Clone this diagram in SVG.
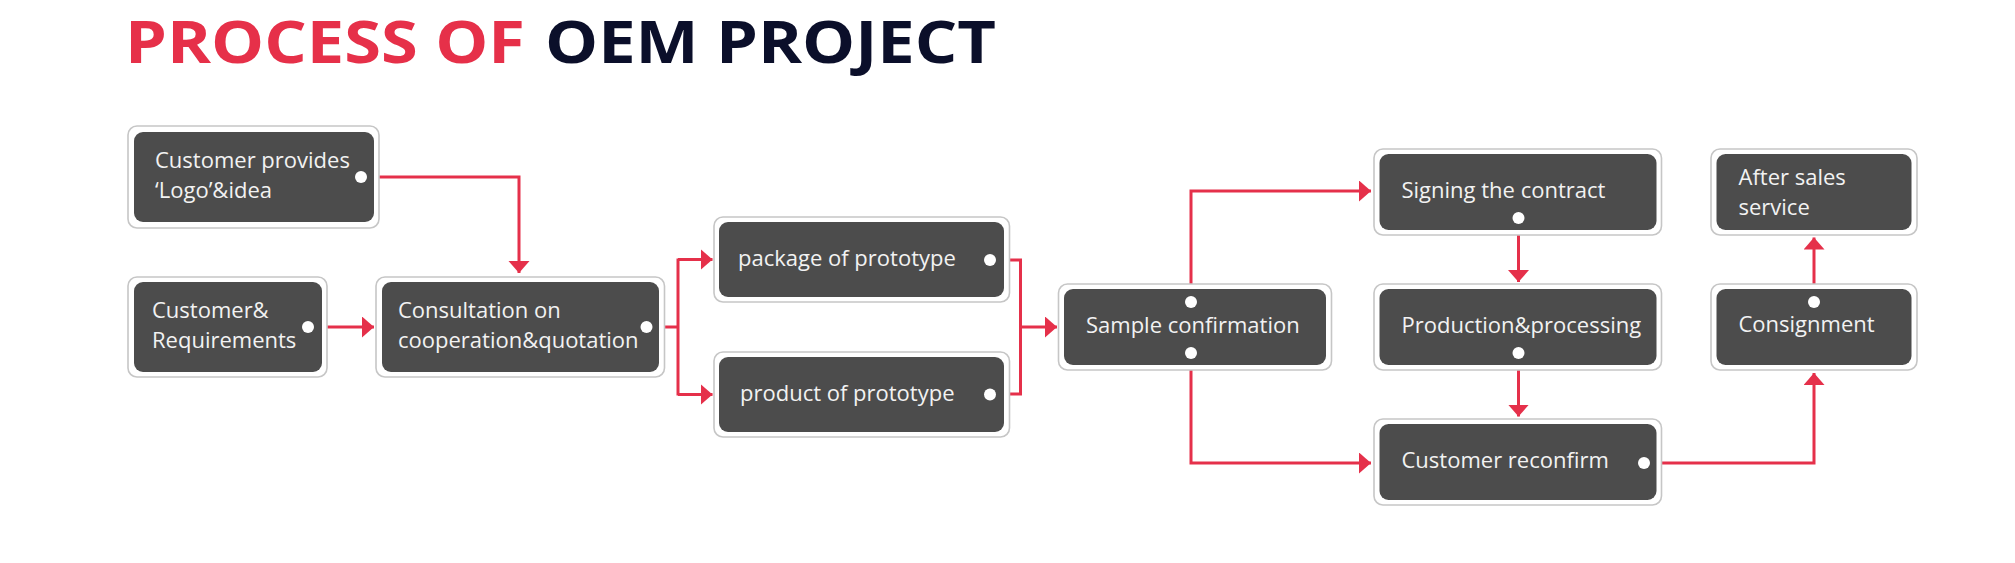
<svg xmlns="http://www.w3.org/2000/svg" width="2015" height="563" viewBox="0 0 2015 563">
<style>
.outer{fill:#ffffff;stroke:#c6c6c6;stroke-width:1.6}
.inner{fill:#4c4c4c}
.lbl{font-family:"Open Sans","Liberation Sans",sans-serif;font-size:22px;fill:#f2f2f2}
.dot{fill:#ffffff}
.con{fill:none;stroke:#e5304a;stroke-width:3}
.title{font-family:"Open Sans","Liberation Sans",sans-serif;font-weight:700;font-size:59px}
</style>
<defs>
<marker id="arr" markerUnits="userSpaceOnUse" markerWidth="14" markerHeight="22" refX="12" refY="10.5" orient="auto" viewBox="0 0 14 22">
<path d="M0,0 L12,10.5 L0,21 Z" fill="#e5304a"/>
</marker>
</defs>
<rect width="2015" height="563" fill="#ffffff"/>
<g id="title">
<text class="title" x="125" y="63" fill="#e63049" textLength="400" lengthAdjust="spacingAndGlyphs">PROCESS OF</text>
<text class="title" x="545" y="63" fill="#0b0f2a" textLength="451" lengthAdjust="spacingAndGlyphs">OEM PROJECT</text>
</g>
<g id="connectors">
<path class="con" d="M361,177 H519 V273" marker-end="url(#arr)"/>
<path class="con" d="M308,327 H374" marker-end="url(#arr)"/>
<path class="con" d="M646,327 H678"/>
<path class="con" d="M678,258.5 V395.5"/>
<path class="con" d="M678,259.5 H712.5" marker-end="url(#arr)"/>
<path class="con" d="M678,394.5 H712.5" marker-end="url(#arr)"/>
<path class="con" d="M990,260 H1020.5 V394 H990"/>
<path class="con" d="M1020.5,327 H1057" marker-end="url(#arr)"/>
<path class="con" d="M1191,302 V191 H1371" marker-end="url(#arr)"/>
<path class="con" d="M1191,353 V463 H1371" marker-end="url(#arr)"/>
<path class="con" d="M1518.5,218 V282" marker-end="url(#arr)"/>
<path class="con" d="M1518.5,353 V416.5" marker-end="url(#arr)"/>
<path class="con" d="M1644,463 H1814 V373" marker-end="url(#arr)"/>
<path class="con" d="M1814,302 V237.5" marker-end="url(#arr)"/>
</g>
<g id="node-logo">
<rect class="outer" x="128" y="126" width="251" height="102" rx="9"/>
<rect class="inner" x="134" y="132" width="240" height="90" rx="9"/>
<text class="lbl" x="155" y="168">Customer provides</text>
<text class="lbl" x="155" y="198">‘Logo’&amp;idea</text>
<circle class="dot" cx="361" cy="177" r="6"/>
</g>
<g id="node-requirements">
<rect class="outer" x="128" y="277" width="199" height="100" rx="9"/>
<rect class="inner" x="134" y="282" width="188" height="90" rx="9"/>
<text class="lbl" x="152" y="318">Customer&amp;</text>
<text class="lbl" x="152" y="348">Requirements</text>
<circle class="dot" cx="308" cy="327" r="6"/>
</g>
<g id="node-consultation">
<rect class="outer" x="376" y="277" width="288.5" height="100" rx="9"/>
<rect class="inner" x="382" y="282" width="277" height="90" rx="9"/>
<text class="lbl" x="398" y="318">Consultation on</text>
<text class="lbl" x="398" y="348">cooperation&amp;quotation</text>
<circle class="dot" cx="646.5" cy="327" r="6"/>
</g>
<g id="node-package">
<rect class="outer" x="714" y="217" width="295.5" height="85" rx="9"/>
<rect class="inner" x="719" y="222" width="285" height="75" rx="9"/>
<text class="lbl" x="738" y="266">package of prototype</text>
<circle class="dot" cx="990" cy="260" r="6"/>
</g>
<g id="node-product">
<rect class="outer" x="714" y="352" width="295.5" height="85" rx="9"/>
<rect class="inner" x="719" y="357" width="285" height="75" rx="9"/>
<text class="lbl" x="740" y="401">product of prototype</text>
<circle class="dot" cx="990" cy="394.5" r="6"/>
</g>
<g id="node-sample">
<rect class="outer" x="1058.5" y="284" width="273" height="86" rx="9"/>
<rect class="inner" x="1064" y="289" width="262" height="76" rx="9"/>
<text class="lbl" x="1086" y="333">Sample confirmation</text>
<circle class="dot" cx="1191" cy="302" r="6"/>
<circle class="dot" cx="1191" cy="353" r="6"/>
</g>
<g id="node-signing">
<rect class="outer" x="1374" y="149" width="287.5" height="86" rx="9"/>
<rect class="inner" x="1379.5" y="154" width="277" height="76" rx="9"/>
<text class="lbl" x="1401.5" y="198">Signing the contract</text>
<circle class="dot" cx="1518.5" cy="218" r="6"/>
</g>
<g id="node-production">
<rect class="outer" x="1374" y="284" width="287.5" height="86" rx="9"/>
<rect class="inner" x="1379.5" y="289" width="277" height="76" rx="9"/>
<text class="lbl" x="1401.5" y="333">Production&amp;processing</text>
<circle class="dot" cx="1518.5" cy="353" r="6"/>
</g>
<g id="node-reconfirm">
<rect class="outer" x="1374" y="419" width="287.5" height="86" rx="9"/>
<rect class="inner" x="1379.5" y="424" width="277" height="76" rx="9"/>
<text class="lbl" x="1401.5" y="468">Customer reconfirm</text>
<circle class="dot" cx="1644" cy="463" r="6"/>
</g>
<g id="node-consignment">
<rect class="outer" x="1711" y="284" width="206" height="86" rx="9"/>
<rect class="inner" x="1716.5" y="289" width="195" height="76" rx="9"/>
<text class="lbl" x="1738.5" y="332">Consignment</text>
<circle class="dot" cx="1814" cy="302" r="6"/>
</g>
<g id="node-aftersales">
<rect class="outer" x="1711" y="149" width="206" height="86" rx="9"/>
<rect class="inner" x="1716.5" y="154" width="195" height="76" rx="9"/>
<text class="lbl" x="1738.5" y="185">After sales</text>
<text class="lbl" x="1738.5" y="215">service</text>
</g>
</svg>
